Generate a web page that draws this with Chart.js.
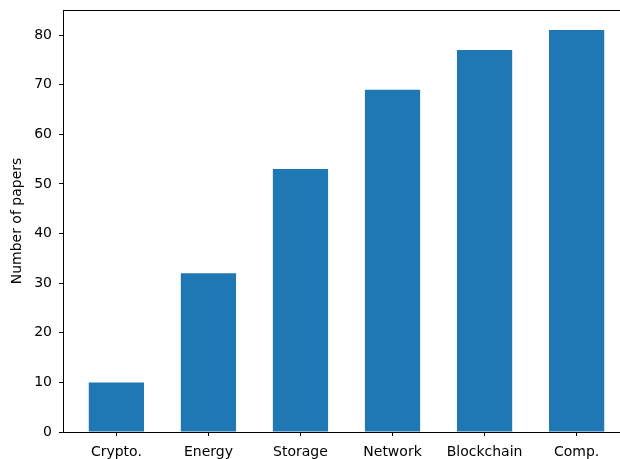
<!DOCTYPE html>
<html>
<head>
<meta charset="utf-8">
<script src="https://cdn.jsdelivr.net/npm/chart.js@4"></script>
<style>
  html, body { margin: 0; padding: 0; background: #fff; overflow: hidden; }
  #wrap { width: 620px; height: 459px; overflow: hidden; }
</style>
</head>
<body>
<div id="wrap"><canvas id="papersChart" width="640" height="459"></canvas></div>
<script>
// --- DATA ---
const categories = ["Crypto.", "Energy", "Storage", "Network", "Blockchain", "Comp."];
const paperCounts = [10, 32, 53, 69, 77, 81];
const yTicks = [0, 10, 20, 30, 40, 50, 60, 70, 80];

const FONT = "'DejaVu Sans', sans-serif";
const BAR_COLOR = "#1f77b4";

Chart.defaults.font.family = FONT;
Chart.defaults.font.size = 14;
Chart.defaults.color = "#000";

const points = paperCounts.map((v, i) => ({ x: i, y: v }));

new Chart(document.getElementById("papersChart").getContext("2d"), {
    type: "bar",
    data: {
        datasets: [{
            label: "Number of papers",
            data: points,
            backgroundColor: BAR_COLOR,
            borderWidth: 0,
            barPercentage: 0.6,
            categoryPercentage: 1.0
        }]
    },
    options: {
        responsive: false,
        devicePixelRatio: 1,
        animation: false,
        layout: { padding: { left: 0, top: 10, right: 10, bottom: 0 } },
        plugins: { legend: { display: false }, tooltip: { enabled: false } },
        scales: {
            x: {
                type: "linear",
                position: "bottom",
                offset: false,
                min: -0.58,
                max: categories.length - 1 + 0.58,
                afterBuildTicks: s => { s.ticks = categories.map((c, i) => ({ value: i })); },
                afterFit: s => { s.height = 27; s.paddingLeft = 0; s.paddingRight = 0; },
                grid: { display: true, offset: false, drawOnChartArea: false, tickLength: 4, tickColor: "#000", tickWidth: 1 },
                border: { display: true, color: "#000", width: 1 },
                ticks: {
                    padding: 8,
                    maxRotation: 0,
                    autoSkip: false,
                    callback: v => categories[v] !== undefined ? categories[v] : ""
                }
            },
            xTop: {
                type: "linear",
                position: "top",
                offset: false,
                min: -0.58,
                max: categories.length - 1 + 0.58,
                afterFit: s => { s.height = 0; },
                grid: { display: false },
                border: { display: true, color: "#000", width: 1 },
                ticks: { display: false }
            },
            y: {
                min: 0,
                max: 85.05,
                afterBuildTicks: s => { s.ticks = yTicks.map(v => ({ value: v })); },
                afterFit: s => { s.width = 63; s.paddingTop = 0; s.paddingBottom = 0; },
                grid: { display: true, drawOnChartArea: false, tickLength: 4, tickColor: "#000", tickWidth: 1 },
                border: { display: true, color: "#000", width: 1 },
                ticks: { padding: 7 },
                title: {
                    display: true,
                    text: "Number of papers",
                    font: { size: 14 },
                    padding: { top: 9, bottom: 4 }
                }
            }
        }
    }
});
</script>
</body>
</html>
